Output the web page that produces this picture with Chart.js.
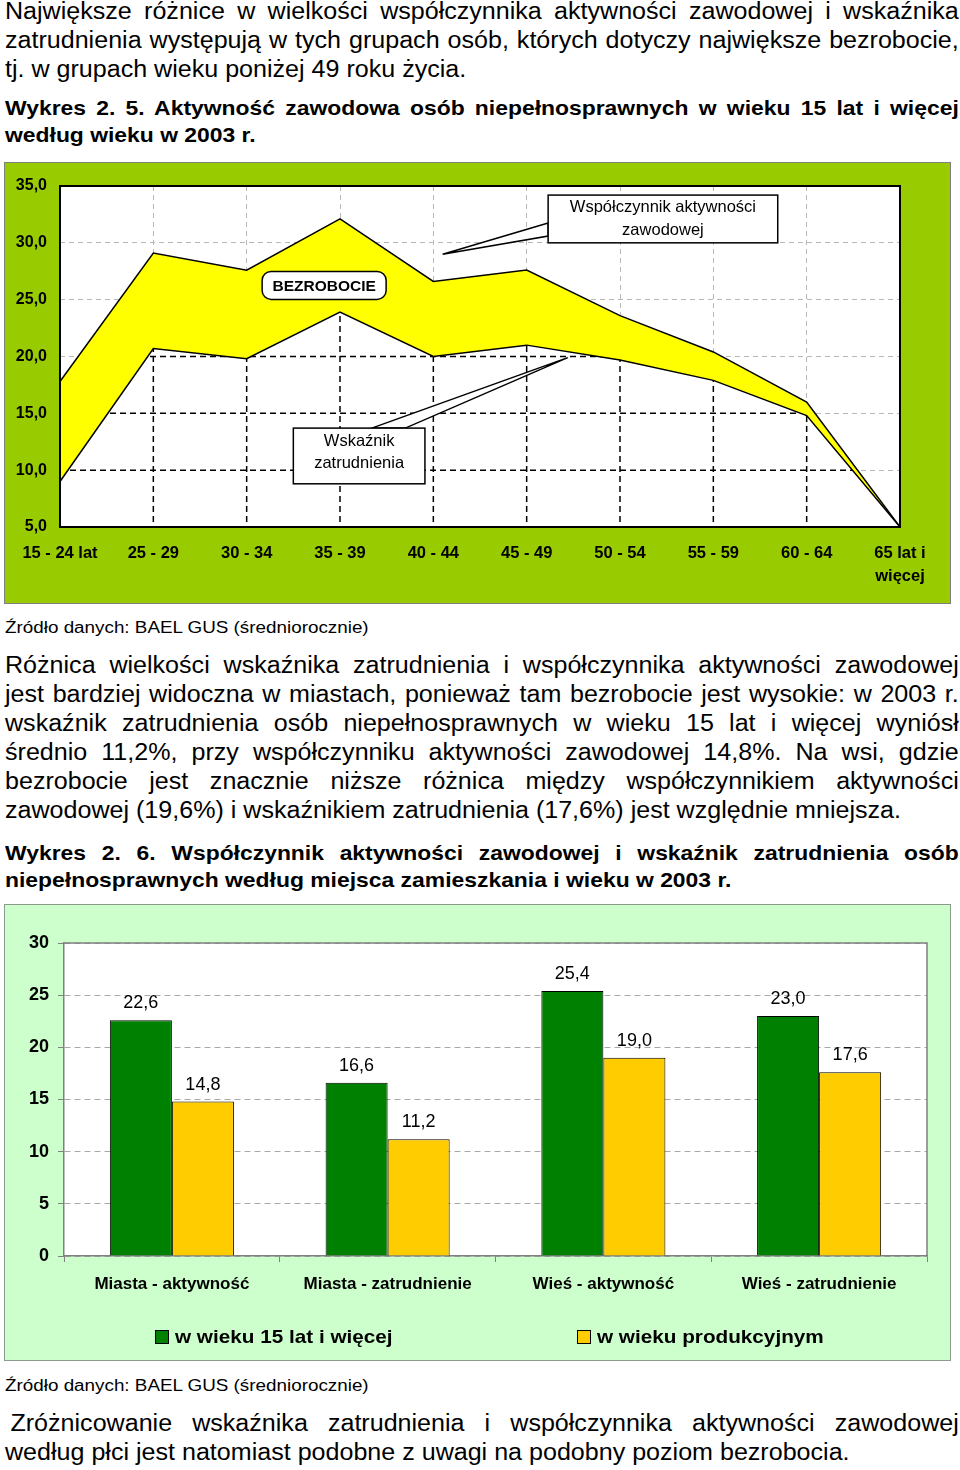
<!DOCTYPE html>
<html lang="pl">
<head>
<meta charset="utf-8">
<title>Wykres 2.5 i 2.6</title>
<script src="https://cdn.jsdelivr.net/npm/chart.js@4.4.1/dist/chart.umd.min.js"></script>
<style>
  html, body { margin: 0; padding: 0; background: #fff; }
  body {
    position: relative; width: 960px; height: 1470px; overflow: hidden;
    font-family: "Liberation Sans", Arial, sans-serif; color: #000;
  }
  .blk { position: absolute; left: 5px; width: 875px; transform: scaleX(1.09); transform-origin: 0 0; }
  .body { font-size: 23px; line-height: 29px; }
  .head { font-size: 21px; line-height: 27px; font-weight: bold; }
  .src { font-size: 17.3px; line-height: 22px; }
  .j { text-align: justify; text-align-last: justify; }
  .ind { padding-left: 5px; }
  .box { position: absolute; box-sizing: border-box; }
  .box canvas { display: block; }
  #ageBox { left: 4px; top: 162px; width: 947px; height: 442px; background: #99cc00; border: 1px solid #7f7f7f; }
  #placeBox { left: 4px; top: 904px; width: 947px; height: 457px; background: #ccffcc; border: 1px solid #8c9c8c; }
  .leg { position: absolute; top: 420px; height: 24px; display: flex; align-items: center; }
  .leg i { display: block; width: 14px; height: 14px; box-sizing: border-box; border: 1px solid #000; margin-right: 6px; }
  .leg span { font-size: 19px; font-weight: bold; transform: scaleX(1.09); transform-origin: 0 50%; white-space: nowrap; }
</style>
</head>
<body>

<div class="blk body" style="top:-3px">
  <div class="j">Największe różnice w wielkości współczynnika aktywności zawodowej i wskaźnika</div>
  <div class="j">zatrudnienia występują w tych grupach osób, których dotyczy największe bezrobocie,</div>
  <div>tj. w grupach wieku poniżej 49 roku życia.</div>
</div>

<div class="blk head" style="top:94px">
  <div class="j">Wykres 2. 5. Aktywność zawodowa osób niepełnosprawnych w wieku 15 lat i więcej</div>
  <div>według wieku w 2003 r.</div>
</div>

<div class="box" id="ageBox"><canvas id="ageChart"></canvas></div>

<div class="blk src" style="top:616px">Źródło danych: BAEL GUS (średniorocznie)</div>

<div class="blk body" style="top:651px">
  <div class="j">Różnica wielkości wskaźnika zatrudnienia i współczynnika aktywności zawodowej</div>
  <div class="j">jest bardziej widoczna w miastach, ponieważ tam bezrobocie jest wysokie: w 2003 r.</div>
  <div class="j">wskaźnik zatrudnienia osób niepełnosprawnych w wieku 15 lat i więcej wyniósł</div>
  <div class="j">średnio 11,2%, przy współczynniku aktywności zawodowej 14,8%. Na wsi, gdzie</div>
  <div class="j">bezrobocie jest znacznie niższe różnica między współczynnikiem aktywności</div>
  <div>zawodowej (19,6%) i wskaźnikiem zatrudnienia (17,6%) jest względnie mniejsza.</div>
</div>

<div class="blk head" style="top:839px">
  <div class="j">Wykres 2. 6. Współczynnik aktywności zawodowej i wskaźnik zatrudnienia osób</div>
  <div>niepełnosprawnych według miejsca zamieszkania i wieku w 2003 r.</div>
</div>

<div class="box" id="placeBox"><canvas id="placeChart"></canvas></div>

<div class="blk src" style="top:1374px">Źródło danych: BAEL GUS (średniorocznie)</div>

<div class="blk body" style="top:1409px">
  <div class="j ind">Zróżnicowanie wskaźnika zatrudnienia i współczynnika aktywności zawodowej</div>
  <div>według płci jest natomiast podobne z uwagi na podobny poziom bezrobocia.</div>
</div>

<script>
// Wykres 2.5 - wiek
var ageGroups = ["15 - 24 lat", "25 - 29", "30 - 34", "35 - 39", "40 - 44", "45 - 49",
  "50 - 54", "55 - 59", "60 - 64", ["65 lat i", "więcej"]];
var activityRate = [17.8, 29.1, 27.6, 32.1, 26.6, 27.6, 23.6, 20.4, 16.0, 5.0];
var employmentRate = [9.0, 20.7, 19.8, 23.9, 20.0, 21.0, 19.7, 17.9, 14.8, 5.0];
var ageAxisMin = 5;
var ageAxisMax = 35;
var ageAxisStep = 5;

// Wykres 2.6 - miejsce zamieszkania
var placeGroups = ["Miasta - aktywność", "Miasta - zatrudnienie", "Wieś - aktywność", "Wieś - zatrudnienie"];
var seriesNames = ["w wieku 15 lat i więcej", "w wieku produkcyjnym"];
var age15Plus = [22.6, 16.6, 25.4, 23.0];
var workingAge = [14.8, 11.2, 19.0, 17.6];
var placeAxisMax = 30;
var placeAxisStep = 5;

var FONT = "'Liberation Sans', Arial, sans-serif";

function plNum(v) {
  return Number(v).toFixed(1).replace(".", ",");
}

// position inside the age chart in data units (category index may be fractional)
function at(chart, idx, val) {
  return { x: chart.scales.x.getPixelForValue(idx), y: chart.scales.y.getPixelForValue(val) };
}

function wedgeBox(ctx, tip, b1, b2, tl, br) {
  ctx.beginPath();
  ctx.moveTo(b1.x, b1.y);
  ctx.lineTo(tip.x, tip.y);
  ctx.lineTo(b2.x, b2.y);
  ctx.closePath();
  ctx.fillStyle = "#fff";
  ctx.fill();
  ctx.stroke();
  ctx.fillRect(tl.x, tl.y, br.x - tl.x, br.y - tl.y);
  ctx.strokeRect(tl.x, tl.y, br.x - tl.x, br.y - tl.y);
}

var ageDecor = {
  id: "ageDecor",
  beforeDraw: function (chart) {
    var a = chart.chartArea, ctx = chart.ctx;
    ctx.save();
    ctx.fillStyle = "#fff";
    ctx.fillRect(a.left, a.top, a.width, a.height);
    ctx.restore();
  },
  beforeDatasetsDraw: function (chart) {
    // black dashed grid only inside the area under the employment line
    var ctx = chart.ctx, a = chart.chartArea;
    var pts = chart.getDatasetMeta(1).data;
    var xs = chart.scales.x, ys = chart.scales.y;
    ctx.save();
    ctx.beginPath();
    ctx.moveTo(pts[0].x, a.bottom);
    pts.forEach(function (p) { ctx.lineTo(p.x, p.y); });
    ctx.lineTo(pts[pts.length - 1].x, a.bottom);
    ctx.closePath();
    ctx.clip();
    ctx.strokeStyle = "#000";
    ctx.lineWidth = 1.5;
    ctx.setLineDash([6, 4]);
    ctx.beginPath();
    for (var i = 1; i < ageGroups.length - 1; i++) {
      var x = xs.getPixelForTick(i);
      ctx.moveTo(x, a.top);
      ctx.lineTo(x, a.bottom);
    }
    ys.ticks.forEach(function (t) {
      if (t.value > ys.min && t.value < ys.max) {
        var y = ys.getPixelForValue(t.value);
        ctx.moveTo(a.left, y);
        ctx.lineTo(a.right, y);
      }
    });
    ctx.stroke();
    ctx.restore();
  },
  afterDraw: function (chart) {
    var ctx = chart.ctx, a = chart.chartArea;
    ctx.save();
    ctx.strokeStyle = "#000";
    ctx.lineWidth = 2;
    ctx.strokeRect(a.left, a.top, a.width, a.height);

    ctx.lineWidth = 1.5;
    ctx.textAlign = "center";
    ctx.textBaseline = "middle";

    // Współczynnik aktywności zawodowej
    var tl = at(chart, 5.23, 34.2), br = at(chart, 7.69, 30.0);
    wedgeBox(ctx, at(chart, 4.1, 29.0), at(chart, 5.23, 31.75), at(chart, 5.23, 30.6), tl, br);
    ctx.fillStyle = "#000";
    ctx.font = "16.5px " + FONT;
    var cx = (tl.x + br.x) / 2, cy = (tl.y + br.y) / 2;
    ctx.fillText("Współczynnik aktywności", cx, cy - 12);
    ctx.fillText("zawodowej", cx, cy + 11);

    // Wskaźnik zatrudnienia
    tl = at(chart, 2.50, 13.7); br = at(chart, 3.91, 8.8);
    wedgeBox(ctx, at(chart, 5.44, 19.9), at(chart, 3.34, 13.7), at(chart, 3.70, 13.7), tl, br);
    ctx.fillStyle = "#000";
    cx = (tl.x + br.x) / 2; cy = (tl.y + br.y) / 2;
    ctx.fillText("Wskaźnik", cx, cy - 15);
    ctx.fillText("zatrudnienia", cx, cy + 7);

    // BEZROBOCIE
    var c = at(chart, 2.83, 26.25);
    ctx.beginPath();
    ctx.roundRect(c.x - 62, c.y - 14, 124, 28, 9);
    ctx.fillStyle = "#fff";
    ctx.fill();
    ctx.stroke();
    ctx.fillStyle = "#000";
    ctx.font = "bold 15.5px " + FONT;
    ctx.fillText("BEZROBOCIE", c.x, c.y + 1);
    ctx.restore();
  }
};

var placeDecor = {
  id: "placeDecor",
  beforeDraw: function (chart) {
    var a = chart.chartArea, ctx = chart.ctx;
    ctx.save();
    ctx.fillStyle = "#fff";
    ctx.fillRect(a.left, a.top, a.width, a.height);
    ctx.restore();
  },
  beforeDatasetsDraw: function (chart) {
    var a = chart.chartArea, ctx = chart.ctx;
    ctx.save();
    ctx.strokeStyle = "#808080";
    ctx.lineWidth = 1.5;
    ctx.beginPath();
    ctx.moveTo(a.left, a.top);
    ctx.lineTo(a.right, a.top);
    ctx.lineTo(a.right, a.bottom);
    ctx.stroke();
    ctx.restore();
  },
  afterDatasetsDraw: function (chart) {
    var ctx = chart.ctx;
    ctx.save();
    ctx.fillStyle = "#000";
    ctx.font = "18px " + FONT;
    ctx.textAlign = "center";
    ctx.textBaseline = "middle";
    chart.data.datasets.forEach(function (ds, di) {
      chart.getDatasetMeta(di).data.forEach(function (bar, i) {
        ctx.fillText(plNum(ds.data[i]), bar.x, bar.y - 17);
      });
    });
    ctx.restore();
  }
};

function initCharts() {
  Chart.defaults.font.family = FONT;
  Chart.defaults.color = "#000";

  new Chart(document.getElementById("ageChart"), {
    type: "line",
    data: {
      labels: ageGroups,
      datasets: [
        {
          label: "Współczynnik aktywności zawodowej",
          data: activityRate,
          borderColor: "#000",
          borderWidth: 1.5,
          backgroundColor: "#ffff00",
          fill: "+1",
          pointRadius: 0,
          tension: 0,
        },
        {
          label: "Wskaźnik zatrudnienia",
          data: employmentRate,
          borderColor: "#000",
          borderWidth: 1.5,
          backgroundColor: "#ffffff",
          fill: "start",
          pointRadius: 0,
          tension: 0,
        },
      ],
    },
    options: {
      responsive: true,
      maintainAspectRatio: false,
      animation: false,
      layout: { padding: { top: 23, right: 50, left: 0, bottom: 0 } },
      plugins: {
        legend: { display: false },
        tooltip: { enabled: false },
        filler: { drawTime: "beforeDatasetsDraw" },
      },
      scales: {
        x: {
          grid: { color: "#b8b8b8", drawTicks: false },
          border: { display: false, dash: [5, 4] },
          ticks: {
            color: "#000",
            font: { size: 16.5, weight: "bold", lineHeight: 1.45 },
            padding: 14,
            maxRotation: 0,
            autoSkip: false,
          },
          afterFit: function (s) { s.height = 76; },
        },
        y: {
          min: ageAxisMin,
          max: ageAxisMax,
          grid: { color: "#b8b8b8", drawTicks: false },
          border: { display: false, dash: [5, 4] },
          ticks: {
            stepSize: ageAxisStep,
            color: "#000",
            font: { size: 16, weight: "bold" },
            padding: 13,
            callback: function (v) { return plNum(v); },
          },
          afterFit: function (s) { s.width = 55; },
        },
      },
    },
    plugins: [ageDecor],
  });

  var placeChart = new Chart(document.getElementById("placeChart"), {
    type: "bar",
    data: {
      labels: placeGroups,
      datasets: [
        { label: seriesNames[0], data: age15Plus, backgroundColor: "#008000", borderColor: "#000", borderWidth: 1 },
        { label: seriesNames[1], data: workingAge, backgroundColor: "#ffcc00", borderColor: "#000", borderWidth: 1 },
      ],
    },
    options: {
      responsive: true,
      maintainAspectRatio: false,
      animation: false,
      layout: { padding: { top: 38, right: 23, left: 0, bottom: 0 } },
      datasets: { bar: { categoryPercentage: 0.575, barPercentage: 1 } },
      plugins: { legend: { display: false }, tooltip: { enabled: false } },
      scales: {
        x: {
          grid: { drawOnChartArea: false, tickLength: 6, color: "#808080" },
          border: { color: "#808080", width: 1.5 },
          ticks: {
            color: "#000",
            font: { size: 17, weight: "bold" },
            padding: 12,
            maxRotation: 0,
            autoSkip: false,
          },
          afterFit: function (s) { s.height = 104; },
        },
        y: {
          min: 0,
          max: placeAxisMax,
          grid: { color: "#a8a8a8", tickLength: 6, tickColor: "#808080" },
          border: { color: "#808080", width: 1.5, dash: [6, 4] },
          ticks: {
            stepSize: placeAxisStep,
            color: "#000",
            font: { size: 18, weight: "bold" },
            padding: 9,
          },
          afterFit: function (s) { s.width = 59; },
        },
      },
    },
    plugins: [placeDecor],
  });

  // legend below the bar chart, built from the datasets
  var box = document.getElementById("placeBox");
  var legendLeft = [150, 572];
  placeChart.data.datasets.forEach(function (ds, i) {
    var item = document.createElement("div");
    item.className = "leg";
    item.style.left = legendLeft[i] + "px";
    var sw = document.createElement("i");
    sw.style.background = ds.backgroundColor;
    var tx = document.createElement("span");
    tx.textContent = ds.label;
    item.appendChild(sw);
    item.appendChild(tx);
    box.appendChild(item);
  });
}

if (document.readyState === "loading") {
  document.addEventListener("DOMContentLoaded", initCharts);
} else {
  initCharts();
}
</script>
</body>
</html>
